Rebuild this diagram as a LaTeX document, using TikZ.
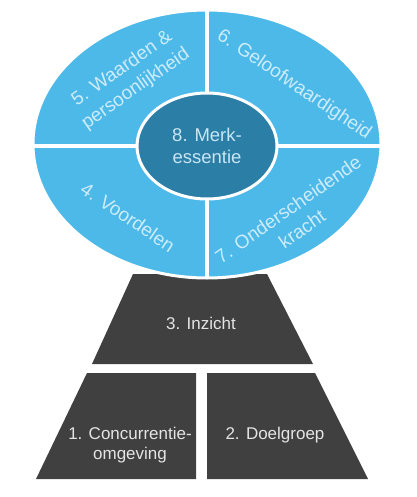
\documentclass[tikz,border=0pt]{standalone}
\usepackage{fontspec}
\setmainfont{Liberation Sans}
\usepackage{tikz}
\definecolor{quarterblue}{RGB}{77,185,232}
\definecolor{coreblue}{RGB}{43,126,166}
\definecolor{pyramidgray}{RGB}{64,64,64}
\definecolor{bluetext}{RGB}{205,236,250}
\definecolor{coretext}{RGB}{200,230,245}
\definecolor{graytext}{RGB}{228,228,228}

\begin{document}
\begin{tikzpicture}[x=1pt,y=-1pt]
\tikzset{quarter/.style = {text=bluetext, align=center, font=\fontsize{19}{24}\selectfont}}
\tikzset{core/.style = {text=coretext, align=center, font=\fontsize{18.5}{22}\selectfont}}
\tikzset{block/.style = {text=graytext, align=center, font=\fontsize{17}{20}\selectfont}}
\tikzset{gap/.style = {white, line width=4pt}}
\useasboundingbox (0,0) rectangle (416,497);
% pyramid
\fill[pyramidgray] (133,274) -- (267,274) -- (313,364) -- (92,364) -- cycle;
\fill[pyramidgray] (87,373) -- (196,373) -- (196,479) -- (36,479) -- cycle;
\fill[pyramidgray] (207,373) -- (315,373) -- (368,479) -- (207,479) -- cycle;
% ellipse with quarters
\filldraw[fill=quarterblue, draw=white, line width=3pt] (207,144) ellipse [x radius=174pt, y radius=134pt];
\draw[gap] (207,9) -- (207,279);
\draw[gap] (32,146) -- (382,146);
\filldraw[fill=coreblue, draw=white, line width=3pt] (207,146) ellipse [x radius=70pt, y radius=53pt];
% labels
\node[quarter, rotate=35] (values) at (129,79) {5. Waarden \&\\persoonlijkheid};
\node[quarter, rotate=-34] (credibility) at (294,85) {6. Geloofwaardigheid};
\node[quarter, rotate=-34] (benefits) at (128,217) {4. Voordelen};
\node[quarter, rotate=35] (distinct) at (295,219) {7. Onderscheidende\\kracht};
\node[core] (essence) at (207,146) {8. Merk-\\essentie};
\node[block] (insight) at (201,323) {3. Inzicht};
\node[block] (competition) at (130,445) {1. Concurrentie-\\omgeving};
\node[block] (target) at (275,435) {2. Doelgroep};
\end{tikzpicture}
\end{document}
